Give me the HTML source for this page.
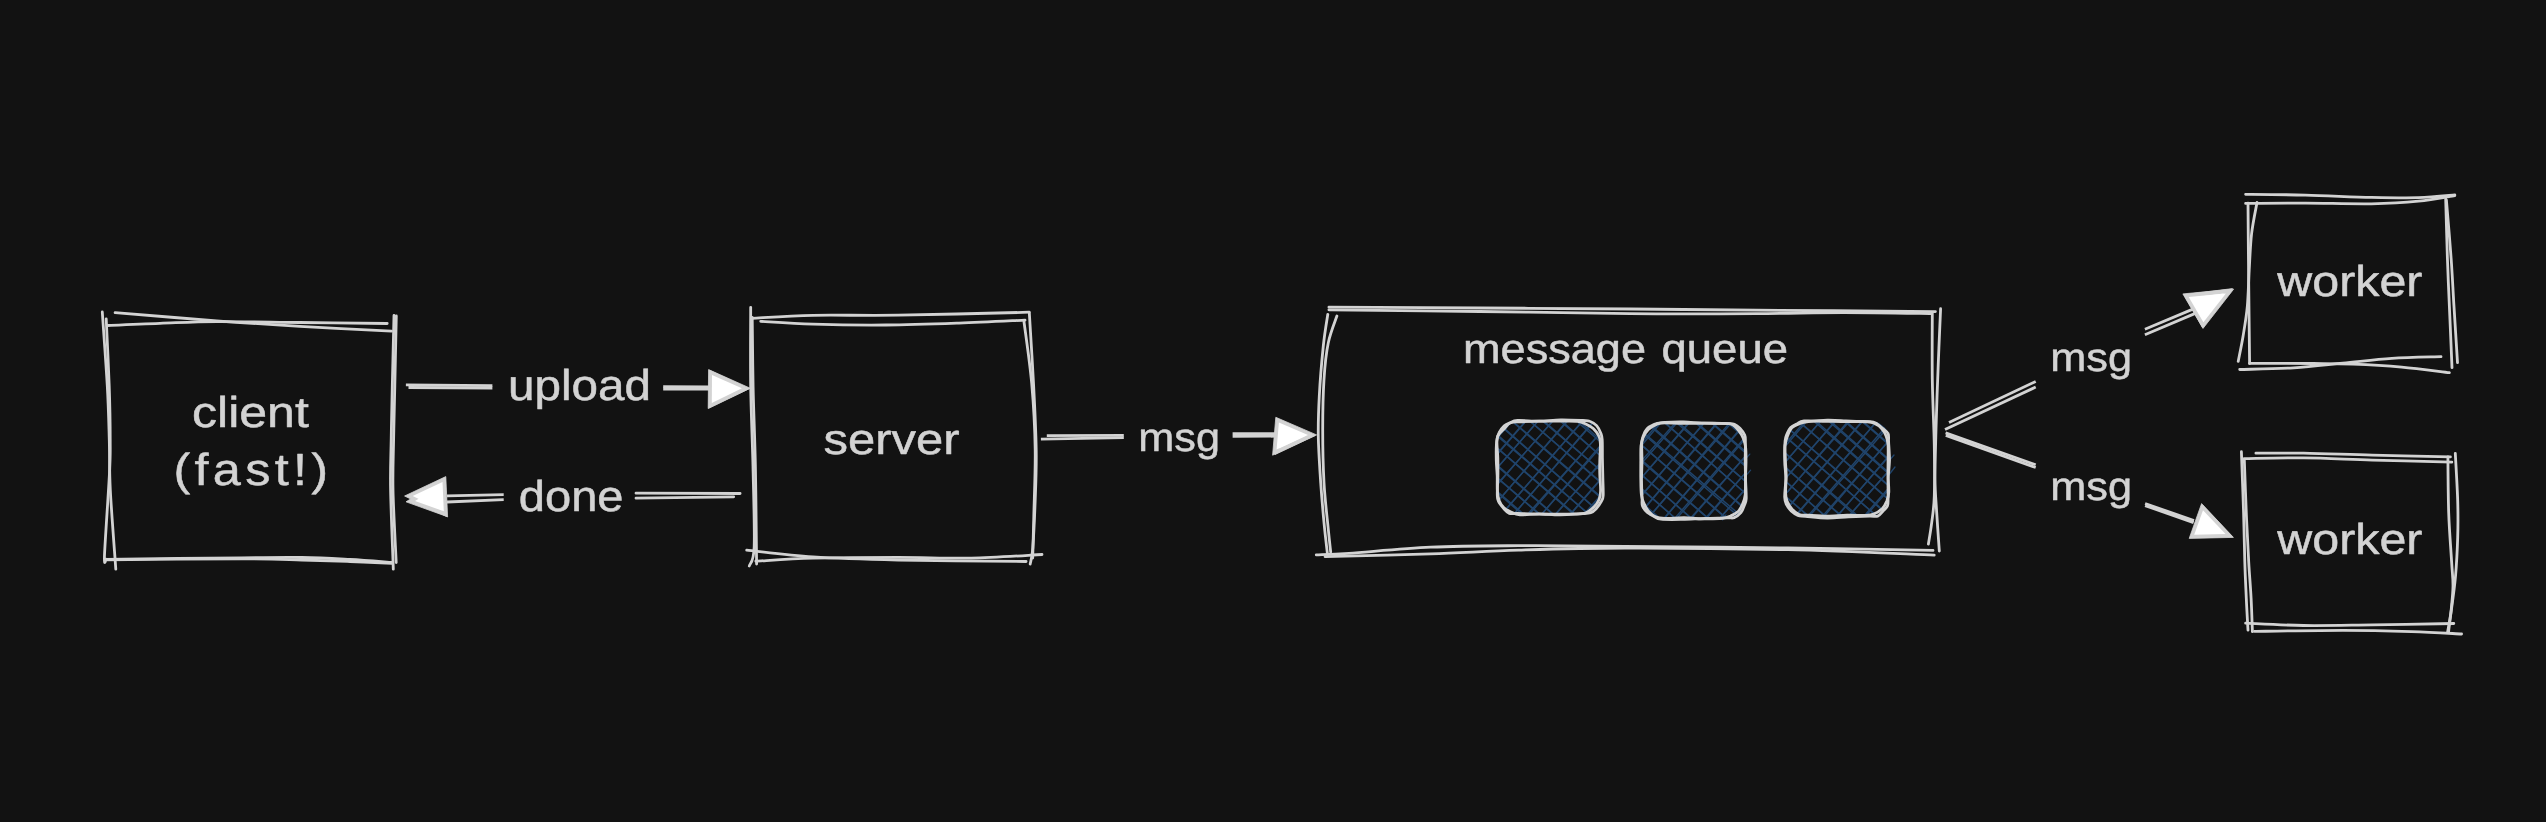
<!DOCTYPE html>
<html><head><meta charset="utf-8"><title>message queue diagram</title>
<style>
html,body{margin:0;padding:0;background:#121212;}
body{width:2546px;height:822px;overflow:hidden;}
svg{display:block;}
text{font-family:"Liberation Sans",sans-serif;fill:#d3d3d3;stroke:#d3d3d3;stroke-width:0.5px;stroke-linejoin:round;text-rendering:geometricPrecision;}
</style></head><body>
<svg width="2546" height="822" viewBox="0 0 2546 822">
<rect width="2546" height="822" fill="#121212"/>
<defs><clipPath id="c1"><path d="M1518.3 421.3L1580.1 421.3Q1601.1 421.3 1601.1 442.3L1601.1 493.0Q1601.1 514.0 1580.1 514.0L1518.3 514.0Q1497.3 514.0 1497.3 493.0L1497.3 442.3Q1497.3 421.3 1518.3 421.3Z"/></clipPath><clipPath id="c2"><path d="M1662.3 423.2L1723.6 423.2Q1744.6 423.2 1744.6 444.2L1744.6 497.6Q1744.6 518.6 1723.6 518.6L1662.3 518.6Q1641.3 518.6 1641.3 497.6L1641.3 444.2Q1641.3 423.2 1662.3 423.2Z"/></clipPath><clipPath id="c3"><path d="M1806.2 421.0L1868.0 421.0Q1889.0 421.0 1889.0 442.0L1889.0 495.2Q1889.0 516.2 1868.0 516.2L1806.2 516.2Q1785.2 516.2 1785.2 495.2L1785.2 442.0Q1785.2 421.0 1806.2 421.0Z"/></clipPath></defs>
<path d="M115.1 312.7C132.1 314.1 186.0 318.5 216.8 320.8C247.6 323.1 270.9 324.6 300.0 326.3C329.1 328.0 376.2 330.4 391.5 331.2" stroke="#d3d3d3" stroke-width="2.8" fill="none" stroke-linecap="round" stroke-linejoin="round"/>
<path d="M107.8 325.5C116.5 325.1 141.8 323.9 160.0 323.3C178.2 322.7 193.5 321.7 216.8 321.6C240.1 321.5 271.6 322.2 300.0 322.5C328.4 322.8 372.7 323.3 387.2 323.5" stroke="#d3d3d3" stroke-width="2.8" fill="none" stroke-linecap="round" stroke-linejoin="round"/>
<path d="M102.3 312.0C103.1 324.3 106.1 364.7 107.3 386.0C108.5 407.3 108.8 422.7 109.3 440.0C109.8 457.3 109.2 468.5 110.3 490.0C111.4 511.5 114.9 556.0 115.8 569.2" stroke="#d3d3d3" stroke-width="2.8" fill="none" stroke-linecap="round" stroke-linejoin="round"/>
<path d="M106.2 318.8C106.7 330.0 108.5 365.8 109.2 386.0C109.9 406.2 110.2 425.5 110.2 440.0C110.2 454.5 110.5 453.8 109.5 473.0C108.5 492.2 105.1 540.6 104.5 555.0C103.9 569.4 105.8 558.6 106.0 559.3" stroke="#d3d3d3" stroke-width="2.8" fill="none" stroke-linecap="round" stroke-linejoin="round"/>
<path d="M394.0 315.5C393.7 327.2 392.8 365.2 392.3 386.0C391.8 406.8 391.5 422.7 391.2 440.0C390.9 457.3 390.2 468.5 390.6 490.0C391.0 511.5 392.9 556.0 393.3 569.2" stroke="#d3d3d3" stroke-width="2.8" fill="none" stroke-linecap="round" stroke-linejoin="round"/>
<path d="M396.3 316.0C396.1 327.7 395.2 365.3 394.8 386.0C394.4 406.7 393.9 422.7 393.6 440.0C393.3 457.3 392.6 469.6 393.0 490.0C393.4 510.4 395.7 550.4 396.2 562.5" stroke="#d3d3d3" stroke-width="2.8" fill="none" stroke-linecap="round" stroke-linejoin="round"/>
<path d="M105.3 559.3C127.9 559.0 208.2 558.1 241.0 557.8C273.8 557.5 283.8 557.2 302.0 557.5C320.2 557.8 335.0 558.7 350.0 559.5C365.0 560.3 385.0 562.0 392.0 562.5" stroke="#d3d3d3" stroke-width="2.8" fill="none" stroke-linecap="round" stroke-linejoin="round"/>
<path d="M105.3 559.9C127.9 559.7 208.2 558.8 241.0 558.8C273.8 558.8 283.8 559.5 302.0 560.0C320.2 560.5 335.0 560.9 350.0 561.5C365.0 562.1 385.0 563.1 392.0 563.4" stroke="#d3d3d3" stroke-width="2.8" fill="none" stroke-linecap="round" stroke-linejoin="round"/>
<path d="M752.2 318.3C762.3 317.8 788.6 315.8 813.0 315.3C837.4 314.8 862.3 315.7 898.3 315.2C934.3 314.7 1007.4 312.7 1029.2 312.2" stroke="#d3d3d3" stroke-width="2.8" fill="none" stroke-linecap="round" stroke-linejoin="round"/>
<path d="M760.7 321.3C769.4 321.8 792.1 323.6 813.0 324.2C833.9 324.8 861.7 325.2 886.0 325.0C910.3 324.8 935.8 323.9 959.0 323.1C982.2 322.3 1014.0 320.6 1025.0 320.1" stroke="#d3d3d3" stroke-width="2.8" fill="none" stroke-linecap="round" stroke-linejoin="round"/>
<path d="M750.7 307.3C750.7 320.5 750.3 360.1 750.7 386.7C751.1 413.3 752.4 440.0 753.0 466.7C753.6 493.4 754.8 530.2 754.2 546.7C753.6 563.2 750.1 562.8 749.3 566.0" stroke="#d3d3d3" stroke-width="2.8" fill="none" stroke-linecap="round" stroke-linejoin="round"/>
<path d="M752.2 317.3C752.4 328.9 752.6 361.8 753.1 386.7C753.6 411.6 754.9 440.0 755.4 466.7C755.9 493.4 756.2 530.5 756.4 546.7C756.6 562.9 756.6 561.1 756.6 564.0" stroke="#d3d3d3" stroke-width="2.8" fill="none" stroke-linecap="round" stroke-linejoin="round"/>
<path d="M1029.3 312.7C1030.0 324.5 1032.3 360.4 1033.5 383.3C1034.7 406.2 1035.9 430.6 1036.2 450.0C1036.5 469.4 1035.8 483.7 1035.2 500.0C1034.6 516.3 1033.6 537.3 1032.8 548.0C1032.0 558.7 1030.6 561.3 1030.2 564.0" stroke="#d3d3d3" stroke-width="2.8" fill="none" stroke-linecap="round" stroke-linejoin="round"/>
<path d="M1024.0 321.7C1025.3 332.0 1029.8 361.9 1031.7 383.3C1033.6 404.7 1034.9 427.8 1035.2 450.0C1035.5 472.2 1034.2 498.7 1033.8 516.7C1033.4 534.7 1032.9 551.1 1032.7 558.0" stroke="#d3d3d3" stroke-width="2.8" fill="none" stroke-linecap="round" stroke-linejoin="round"/>
<path d="M746.7 550.2C757.8 551.3 787.7 555.3 813.0 556.9C838.3 558.5 862.8 559.2 898.3 560.0C933.8 560.8 1004.8 561.2 1026.1 561.5" stroke="#d3d3d3" stroke-width="2.8" fill="none" stroke-linecap="round" stroke-linejoin="round"/>
<path d="M755.8 561.2C765.3 560.7 789.2 558.8 813.0 558.1C836.8 557.5 871.9 557.3 898.3 557.3C924.7 557.3 947.3 558.6 971.3 558.1C995.2 557.6 1030.2 555.1 1042.0 554.5" stroke="#d3d3d3" stroke-width="2.8" fill="none" stroke-linecap="round" stroke-linejoin="round"/>
<path d="M1328.9 307.2C1354.1 307.3 1429.8 307.7 1480.0 308.0C1530.2 308.3 1584.0 308.6 1630.0 309.0C1676.0 309.4 1704.8 309.7 1755.7 310.1C1806.6 310.5 1905.5 311.4 1935.4 311.6" stroke="#d3d3d3" stroke-width="2.8" fill="none" stroke-linecap="round" stroke-linejoin="round"/>
<path d="M1328.9 309.8C1354.1 310.1 1429.8 310.9 1480.0 311.5C1530.2 312.1 1584.0 313.2 1630.0 313.6C1676.0 314.0 1720.1 313.8 1755.7 313.6C1791.3 313.4 1814.4 312.6 1843.7 312.6C1873.0 312.6 1917.0 313.4 1931.7 313.6" stroke="#d3d3d3" stroke-width="2.8" fill="none" stroke-linecap="round" stroke-linejoin="round"/>
<path d="M1327.8 314.3C1327.0 319.6 1324.7 332.4 1323.3 346.0C1321.9 359.6 1320.1 381.0 1319.3 396.0C1318.5 411.0 1318.1 421.6 1318.3 436.0C1318.5 450.4 1319.8 468.2 1320.7 482.7C1321.7 497.1 1322.9 510.8 1324.0 522.7C1325.1 534.6 1326.9 549.0 1327.5 554.3" stroke="#d3d3d3" stroke-width="2.8" fill="none" stroke-linecap="round" stroke-linejoin="round"/>
<path d="M1336.9 316.0C1335.5 320.4 1330.5 332.1 1328.3 342.7C1326.1 353.2 1324.9 364.9 1324.0 379.3C1323.1 393.7 1322.7 412.1 1322.7 429.3C1322.7 446.5 1323.1 466.0 1324.0 482.7C1324.9 499.4 1327.2 517.8 1328.3 529.3C1329.4 540.8 1330.3 548.2 1330.7 552.0" stroke="#d3d3d3" stroke-width="2.8" fill="none" stroke-linecap="round" stroke-linejoin="round"/>
<path d="M1940.6 308.7C1940.2 317.7 1939.1 342.6 1938.3 362.7C1937.5 382.8 1936.5 409.9 1936.0 429.3C1935.5 448.7 1934.9 465.4 1935.0 479.3C1935.1 493.2 1936.0 500.8 1936.7 512.7C1937.4 524.7 1938.9 544.6 1939.3 551.0" stroke="#d3d3d3" stroke-width="2.8" fill="none" stroke-linecap="round" stroke-linejoin="round"/>
<path d="M1932.3 313.0C1932.3 324.1 1932.0 357.1 1932.3 379.3C1932.6 401.5 1934.0 426.6 1934.3 446.0C1934.6 465.4 1934.7 483.2 1934.3 496.0C1933.9 508.8 1932.7 514.7 1931.7 522.7C1930.7 530.7 1929.0 540.5 1928.4 544.0" stroke="#d3d3d3" stroke-width="2.8" fill="none" stroke-linecap="round" stroke-linejoin="round"/>
<path d="M1316.3 554.9C1321.8 554.6 1329.9 554.6 1349.0 553.3C1368.1 552.0 1402.4 548.5 1430.7 547.2C1459.0 545.9 1486.3 545.9 1518.7 545.7C1551.1 545.6 1580.1 545.9 1625.0 546.3C1669.9 546.7 1736.7 547.3 1788.0 548.0C1839.3 548.7 1908.8 550.0 1933.0 550.4" stroke="#d3d3d3" stroke-width="2.8" fill="none" stroke-linecap="round" stroke-linejoin="round"/>
<path d="M1325.1 556.6C1342.7 556.1 1398.4 555.0 1430.7 553.9C1463.0 552.8 1486.3 551.1 1518.7 550.1C1551.1 549.1 1580.1 548.1 1625.0 548.0C1669.9 547.9 1736.5 548.5 1788.0 549.7C1839.5 550.9 1909.8 554.2 1934.2 555.1" stroke="#d3d3d3" stroke-width="2.8" fill="none" stroke-linecap="round" stroke-linejoin="round"/>
<path d="M2245.6 194.3C2255.6 194.4 2284.4 194.6 2305.4 195.1C2326.4 195.6 2352.6 197.0 2371.4 197.4C2390.2 197.8 2404.6 198.1 2418.5 197.7C2432.4 197.3 2448.8 195.4 2454.8 194.9" stroke="#d3d3d3" stroke-width="2.8" fill="none" stroke-linecap="round" stroke-linejoin="round"/>
<path d="M2245.6 203.4C2255.6 203.3 2284.4 203.0 2305.4 203.1C2326.4 203.2 2352.6 204.1 2371.4 203.8C2390.2 203.5 2404.6 202.6 2418.5 201.2C2432.4 199.8 2448.8 196.5 2454.8 195.6" stroke="#d3d3d3" stroke-width="2.8" fill="none" stroke-linecap="round" stroke-linejoin="round"/>
<path d="M2248.0 203.2C2248.1 216.4 2248.4 255.6 2248.7 282.3C2249.0 309.0 2249.4 350.1 2249.6 363.6" stroke="#d3d3d3" stroke-width="2.8" fill="none" stroke-linecap="round" stroke-linejoin="round"/>
<path d="M2257.0 202.5C2256.1 207.7 2252.9 222.4 2251.6 233.7C2250.3 245.0 2249.9 258.0 2249.2 270.2C2248.5 282.4 2248.3 295.8 2247.3 306.7C2246.3 317.6 2244.6 326.8 2243.1 335.9C2241.6 345.0 2239.0 357.1 2238.2 361.4" stroke="#d3d3d3" stroke-width="2.8" fill="none" stroke-linecap="round" stroke-linejoin="round"/>
<path d="M2445.7 199.1C2446.0 208.9 2446.8 240.1 2447.4 258.0C2448.0 275.9 2448.6 288.4 2449.4 306.7C2450.2 325.0 2451.6 357.5 2452.0 367.6" stroke="#d3d3d3" stroke-width="2.8" fill="none" stroke-linecap="round" stroke-linejoin="round"/>
<path d="M2446.4 200.1C2447.2 209.8 2449.8 240.2 2451.1 258.0C2452.4 275.8 2452.9 289.3 2454.0 306.7C2455.1 324.1 2456.9 353.3 2457.5 362.6" stroke="#d3d3d3" stroke-width="2.8" fill="none" stroke-linecap="round" stroke-linejoin="round"/>
<path d="M2249.5 363.4C2260.2 363.4 2296.2 363.4 2313.4 363.5C2330.6 363.6 2338.0 363.5 2352.7 364.1C2367.4 364.7 2385.6 365.7 2401.7 367.1C2417.8 368.5 2441.4 371.8 2449.4 372.7" stroke="#d3d3d3" stroke-width="2.8" fill="none" stroke-linecap="round" stroke-linejoin="round"/>
<path d="M2239.7 369.5C2248.7 369.2 2276.5 368.9 2293.7 367.8C2310.9 366.8 2326.4 364.8 2342.8 363.2C2359.2 361.6 2375.5 359.4 2391.9 358.3C2408.3 357.2 2432.8 356.9 2441.0 356.6" stroke="#d3d3d3" stroke-width="2.8" fill="none" stroke-linecap="round" stroke-linejoin="round"/>
<path d="M2255.9 453.2C2263.8 453.2 2284.2 452.9 2303.6 453.2C2323.0 453.5 2347.8 454.6 2372.3 455.2C2396.8 455.8 2437.4 456.6 2450.4 456.9" stroke="#d3d3d3" stroke-width="2.8" fill="none" stroke-linecap="round" stroke-linejoin="round"/>
<path d="M2244.1 458.6C2254.0 458.5 2282.2 457.6 2303.6 457.9C2325.0 458.1 2347.6 459.4 2372.3 460.1C2397.0 460.8 2438.6 461.8 2451.8 462.1" stroke="#d3d3d3" stroke-width="2.8" fill="none" stroke-linecap="round" stroke-linejoin="round"/>
<path d="M2241.4 451.7C2241.8 461.9 2243.0 494.7 2243.6 513.0C2244.2 531.3 2244.4 547.5 2244.8 561.7C2245.2 575.9 2245.8 586.8 2246.3 598.2C2246.8 609.6 2247.7 624.9 2248.0 630.2" stroke="#d3d3d3" stroke-width="2.8" fill="none" stroke-linecap="round" stroke-linejoin="round"/>
<path d="M2244.3 459.5C2244.6 468.4 2245.6 496.0 2246.3 513.0C2247.0 530.0 2247.9 547.5 2248.7 561.7C2249.5 575.9 2250.5 586.6 2251.1 598.2C2251.7 609.9 2252.2 626.0 2252.4 631.6" stroke="#d3d3d3" stroke-width="2.8" fill="none" stroke-linecap="round" stroke-linejoin="round"/>
<path d="M2447.9 457.0C2448.0 466.3 2448.1 495.6 2448.7 513.0C2449.3 530.5 2450.9 549.5 2451.6 561.7C2452.3 573.9 2453.1 578.0 2453.0 586.0C2452.9 594.0 2451.9 602.3 2451.2 610.0C2450.4 617.7 2448.9 628.5 2448.5 632.2" stroke="#d3d3d3" stroke-width="2.8" fill="none" stroke-linecap="round" stroke-linejoin="round"/>
<path d="M2455.3 453.4C2455.7 461.3 2457.3 486.8 2457.7 500.8C2458.1 514.8 2458.1 524.7 2457.7 537.3C2457.3 549.9 2456.6 564.1 2455.5 576.3C2454.4 588.5 2452.6 601.0 2451.3 610.3C2450.0 619.6 2448.2 628.6 2447.6 632.2" stroke="#d3d3d3" stroke-width="2.8" fill="none" stroke-linecap="round" stroke-linejoin="round"/>
<path d="M2245.6 623.2C2255.3 623.6 2282.5 625.2 2303.6 625.5C2324.7 625.8 2347.3 625.2 2372.3 624.9C2397.3 624.6 2440.2 623.7 2453.8 623.5" stroke="#d3d3d3" stroke-width="2.8" fill="none" stroke-linecap="round" stroke-linejoin="round"/>
<path d="M2254.5 631.4C2269.2 631.2 2316.6 630.4 2342.8 630.4C2369.0 630.4 2391.8 631.0 2411.6 631.6C2431.4 632.2 2453.3 633.6 2461.6 634.0" stroke="#d3d3d3" stroke-width="2.8" fill="none" stroke-linecap="round" stroke-linejoin="round"/>
<path d="M405.9 384.9L492.4 385.7" stroke="#d3d3d3" stroke-width="2.8" fill="none" stroke-linecap="butt" stroke-linejoin="round"/>
<path d="M408.5 387.5L492.4 388.0" stroke="#d3d3d3" stroke-width="2.8" fill="none" stroke-linecap="butt" stroke-linejoin="round"/>
<path d="M663.2 386.6L709.0 386.8" stroke="#d3d3d3" stroke-width="2.8" fill="none" stroke-linecap="butt" stroke-linejoin="round"/>
<path d="M663.2 389.0L709.0 389.2" stroke="#d3d3d3" stroke-width="2.8" fill="none" stroke-linecap="butt" stroke-linejoin="round"/>
<path d="M750.2 388.2L708.6 369.6L708.2 408.6Z" fill="#d3d3d3" stroke="#d3d3d3" stroke-width="0.8" stroke-linejoin="round"/>
<path d="M749.0 388.8L709.6 370.4L709.0 407.8Z" fill="#d3d3d3" stroke="#d3d3d3" stroke-width="0.8" stroke-linejoin="round"/>
<path d="M741.9 388.3L712.0 375.0L711.8 403.0Z" fill="#ffffff"/>
<path d="M739.8 388.8L713.4 376.5L713.0 401.6Z" fill="#ffffff"/>
<path d="M447.0 495.8L503.7 494.7" stroke="#d3d3d3" stroke-width="2.8" fill="none" stroke-linecap="butt" stroke-linejoin="round"/>
<path d="M447.0 502.0L503.7 499.6" stroke="#d3d3d3" stroke-width="2.8" fill="none" stroke-linecap="butt" stroke-linejoin="round"/>
<path d="M636.0 493.2L740.1 493.5" stroke="#d3d3d3" stroke-width="2.8" fill="none" stroke-linecap="round" stroke-linejoin="round"/>
<path d="M636.0 498.2L733.7 496.8" stroke="#d3d3d3" stroke-width="2.8" fill="none" stroke-linecap="round" stroke-linejoin="round"/>
<path d="M404.6 496.0L445.8 476.6L447.6 517.0Z" fill="#d3d3d3" stroke="#d3d3d3" stroke-width="0.8" stroke-linejoin="round"/>
<path d="M406.0 501.8L445.0 478.0L446.6 516.4Z" fill="#d3d3d3" stroke="#d3d3d3" stroke-width="0.8" stroke-linejoin="round"/>
<path d="M412.7 496.1L442.5 482.0L443.8 511.3Z" fill="#ffffff"/>
<path d="M415.0 500.9L441.4 484.8L442.5 510.8Z" fill="#ffffff"/>
<path d="M1046.8 435.7L1123.8 435.4" stroke="#d3d3d3" stroke-width="2.8" fill="none" stroke-linecap="butt" stroke-linejoin="round"/>
<path d="M1040.9 439.2L1123.8 437.7" stroke="#d3d3d3" stroke-width="2.8" fill="none" stroke-linecap="butt" stroke-linejoin="round"/>
<path d="M1232.6 433.7L1276.0 433.7" stroke="#d3d3d3" stroke-width="2.8" fill="none" stroke-linecap="butt" stroke-linejoin="round"/>
<path d="M1232.6 436.4L1276.0 436.2" stroke="#d3d3d3" stroke-width="2.8" fill="none" stroke-linecap="butt" stroke-linejoin="round"/>
<path d="M1316.6 434.9L1275.8 417.3L1272.6 455.2Z" fill="#d3d3d3" stroke="#d3d3d3" stroke-width="0.8" stroke-linejoin="round"/>
<path d="M1315.0 435.6L1276.6 419.4L1275.0 454.6Z" fill="#d3d3d3" stroke="#d3d3d3" stroke-width="0.8" stroke-linejoin="round"/>
<path d="M1308.0 435.0L1278.9 422.4L1276.6 449.5Z" fill="#ffffff"/>
<path d="M1305.5 435.8L1280.2 425.2L1279.2 448.3Z" fill="#ffffff"/>
<path d="M1949.0 422.5L2035.7 381.5" stroke="#d3d3d3" stroke-width="2.8" fill="none" stroke-linecap="butt" stroke-linejoin="round"/>
<path d="M1945.0 429.5L2035.7 387.1" stroke="#d3d3d3" stroke-width="2.8" fill="none" stroke-linecap="butt" stroke-linejoin="round"/>
<path d="M2144.9 329.2L2192.9 309.1" stroke="#d3d3d3" stroke-width="2.8" fill="none" stroke-linecap="butt" stroke-linejoin="round"/>
<path d="M2144.9 334.8L2195.9 313.1" stroke="#d3d3d3" stroke-width="2.8" fill="none" stroke-linecap="butt" stroke-linejoin="round"/>
<path d="M2233.6 289.2L2182.9 293.9L2203.0 328.4Z" fill="#d3d3d3" stroke="#d3d3d3" stroke-width="0.8" stroke-linejoin="round"/>
<path d="M2232.5 288.6L2184.0 294.6L2202.4 327.4Z" fill="#d3d3d3" stroke="#d3d3d3" stroke-width="0.8" stroke-linejoin="round"/>
<path d="M2225.9 293.4L2188.7 296.9L2203.4 322.2Z" fill="#ffffff"/>
<path d="M2223.7 293.6L2190.2 297.8L2202.9 320.4Z" fill="#ffffff"/>
<path d="M1945.6 432.9L2035.7 464.8" stroke="#d3d3d3" stroke-width="2.8" fill="none" stroke-linecap="butt" stroke-linejoin="round"/>
<path d="M1945.8 435.4L2035.7 467.5" stroke="#d3d3d3" stroke-width="2.8" fill="none" stroke-linecap="butt" stroke-linejoin="round"/>
<path d="M2145.1 503.5L2194.0 520.6" stroke="#d3d3d3" stroke-width="2.8" fill="none" stroke-linecap="butt" stroke-linejoin="round"/>
<path d="M2145.1 505.6L2193.6 522.6" stroke="#d3d3d3" stroke-width="2.8" fill="none" stroke-linecap="butt" stroke-linejoin="round"/>
<path d="M2233.4 537.4L2201.6 503.6L2189.2 538.4Z" fill="#d3d3d3" stroke="#d3d3d3" stroke-width="0.8" stroke-linejoin="round"/>
<path d="M2232.0 536.4L2202.4 505.0L2190.4 537.6Z" fill="#d3d3d3" stroke="#d3d3d3" stroke-width="0.8" stroke-linejoin="round"/>
<path d="M2225.5 534.1L2203.0 510.2L2194.2 534.8Z" fill="#ffffff"/>
<path d="M2223.2 532.8L2203.9 512.3L2196.1 533.5Z" fill="#ffffff"/>
<g clip-path="url(#c1)" stroke="#20446b" stroke-width="1.45" fill="none" stroke-linecap="round"><path d="M1583.3 284.9L1725.5 409.9"/><path d="M1581.1 285.1L1725.9 410.6"/><path d="M1575.1 291.2L1720.0 417.6"/><path d="M1574.3 293.8L1720.5 417.5"/><path d="M1567.1 299.6L1711.6 424.4"/><path d="M1567.2 300.3L1710.1 425.6"/><path d="M1562.4 308.9L1705.2 433.5"/><path d="M1561.8 308.7L1704.1 435.0"/><path d="M1554.8 318.2L1696.6 441.5"/><path d="M1553.1 316.3L1697.9 442.0"/><path d="M1546.6 326.8L1691.4 448.6"/><path d="M1546.1 326.6L1690.3 451.5"/><path d="M1539.3 333.2L1684.8 456.8"/><path d="M1539.3 332.3L1685.3 458.2"/><path d="M1533.2 339.2L1676.0 466.0"/><path d="M1533.0 340.6L1677.2 464.1"/><path d="M1525.1 349.7L1668.5 473.7"/><path d="M1525.4 348.6L1671.0 474.8"/><path d="M1520.9 355.8L1662.9 482.4"/><path d="M1520.2 355.5L1664.7 480.5"/><path d="M1513.7 364.1L1655.7 488.0"/><path d="M1511.7 364.9L1655.5 489.6"/><path d="M1505.7 374.1L1649.1 497.6"/><path d="M1506.9 371.8L1648.2 498.6"/><path d="M1497.6 380.4L1642.4 507.3"/><path d="M1497.4 382.7L1642.9 506.3"/><path d="M1490.6 387.5L1636.6 512.7"/><path d="M1492.4 388.1L1636.2 513.8"/><path d="M1484.1 397.3L1627.1 520.5"/><path d="M1485.2 397.7L1628.8 520.7"/><path d="M1476.5 404.1L1620.0 530.0"/><path d="M1476.0 404.5L1620.3 530.4"/><path d="M1470.9 413.6L1616.2 537.6"/><path d="M1471.9 412.7L1613.6 535.7"/><path d="M1465.7 420.9L1609.3 543.5"/><path d="M1464.9 420.2L1608.6 544.4"/><path d="M1455.1 429.8L1600.5 555.5"/><path d="M1457.1 430.2L1600.7 555.5"/><path d="M1450.7 437.9L1594.7 561.1"/><path d="M1451.1 437.8L1593.8 561.8"/><path d="M1443.4 445.1L1585.3 569.9"/><path d="M1444.7 445.9L1587.3 569.1"/><path d="M1436.1 453.1L1580.2 576.7"/><path d="M1436.6 451.9L1579.5 577.9"/><path d="M1430.1 460.6L1573.2 586.5"/><path d="M1428.7 459.1L1572.3 585.8"/><path d="M1421.6 469.8L1566.4 593.0"/><path d="M1423.7 468.0L1566.4 592.3"/><path d="M1416.2 478.1L1559.9 601.2"/><path d="M1415.6 476.3L1557.6 601.5"/><path d="M1408.9 486.0L1552.6 609.4"/><path d="M1406.9 485.3L1550.6 609.2"/><path d="M1401.8 492.8L1544.3 618.5"/><path d="M1402.9 492.7L1543.6 616.1"/><path d="M1392.6 502.1L1537.5 625.5"/><path d="M1394.8 500.0L1536.2 626.0"/><path d="M1389.0 507.5L1530.3 631.6"/><path d="M1388.4 508.1L1531.8 633.4"/><path d="M1381.5 517.9L1522.6 641.9"/><path d="M1379.1 515.9L1523.4 642.7"/><path d="M1373.2 524.0L1517.9 649.2"/><path d="M1374.2 525.3L1517.0 650.0"/><path d="M1370.9 438.0L1493.1 293.8"/><path d="M1369.9 438.6L1493.8 294.2"/><path d="M1379.5 446.6L1503.2 302.3"/><path d="M1377.8 445.9L1504.2 302.3"/><path d="M1385.6 453.2L1512.5 310.1"/><path d="M1386.5 452.9L1510.5 309.9"/><path d="M1394.2 457.9L1519.1 315.9"/><path d="M1395.4 459.1L1517.8 316.7"/><path d="M1402.4 464.2L1525.7 322.6"/><path d="M1400.5 464.1L1526.2 322.4"/><path d="M1411.2 474.4L1535.2 331.0"/><path d="M1409.3 472.2L1535.3 329.0"/><path d="M1418.9 479.9L1544.1 336.6"/><path d="M1417.9 479.5L1544.1 337.7"/><path d="M1426.8 487.6L1550.5 343.0"/><path d="M1424.8 486.3L1550.4 343.1"/><path d="M1434.9 493.0L1557.8 350.4"/><path d="M1433.7 492.9L1558.7 348.2"/><path d="M1441.9 501.9L1568.1 356.4"/><path d="M1442.1 499.4L1566.6 358.0"/><path d="M1450.6 507.3L1574.4 364.8"/><path d="M1451.9 506.8L1576.2 363.0"/><path d="M1456.9 514.6L1581.8 370.2"/><path d="M1458.1 512.8L1583.1 369.5"/><path d="M1465.4 520.4L1590.9 377.7"/><path d="M1465.8 521.1L1590.9 376.9"/><path d="M1474.1 528.3L1598.5 385.6"/><path d="M1474.1 529.0L1597.6 385.2"/><path d="M1483.8 535.0L1606.6 393.5"/><path d="M1481.7 537.1L1608.4 391.1"/><path d="M1490.4 541.1L1613.2 399.5"/><path d="M1489.5 542.7L1613.3 398.2"/><path d="M1496.9 548.4L1623.6 407.2"/><path d="M1499.8 548.2L1623.0 406.7"/><path d="M1506.7 555.2L1629.5 411.5"/><path d="M1504.7 556.2L1630.8 412.9"/><path d="M1512.7 561.7L1639.3 420.7"/><path d="M1514.9 561.4L1637.0 420.6"/><path d="M1522.9 569.4L1646.6 426.6"/><path d="M1521.9 570.2L1645.3 427.2"/><path d="M1529.6 577.2L1656.0 433.7"/><path d="M1529.7 576.3L1655.3 432.5"/><path d="M1539.6 585.0L1664.4 441.4"/><path d="M1538.4 584.7L1663.3 442.4"/><path d="M1545.8 592.4L1671.9 448.7"/><path d="M1547.5 590.9L1672.4 449.0"/><path d="M1555.2 598.8L1678.8 455.3"/><path d="M1553.1 597.6L1678.9 453.2"/><path d="M1562.3 605.0L1685.8 462.5"/><path d="M1562.4 604.1L1687.1 461.4"/><path d="M1569.8 613.3L1695.2 469.0"/><path d="M1571.0 613.2L1693.4 468.7"/><path d="M1577.7 618.7L1701.8 474.6"/><path d="M1578.1 617.7L1702.4 476.8"/><path d="M1586.2 627.1L1711.0 483.8"/><path d="M1586.6 626.6L1709.6 482.6"/><path d="M1593.1 634.2L1718.1 489.4"/><path d="M1593.5 632.9L1719.5 488.2"/><path d="M1602.5 640.1L1727.7 496.3"/><path d="M1602.1 640.5L1727.6 496.0"/><path d="M1609.8 645.3L1734.3 502.0"/><path d="M1609.4 647.5L1734.7 504.5"/></g>
<path d="M1496.9 440.8C1497.1 436.6 1497.8 435.1 1499.1 432.6C1500.3 430.1 1502.5 427.5 1504.3 425.8C1506.0 424.2 1507.6 423.7 1509.8 422.9C1512.0 422.0 1512.6 420.8 1517.6 420.5C1522.6 420.2 1532.5 421.3 1539.7 421.2C1546.9 421.0 1553.5 420.0 1560.7 419.9C1567.9 419.8 1578.2 420.3 1583.0 420.5C1587.8 420.7 1587.4 420.4 1589.7 421.3C1592.0 422.1 1594.8 423.7 1596.6 425.6C1598.4 427.6 1599.8 430.6 1600.7 432.9C1601.6 435.3 1601.9 435.5 1602.2 439.7C1602.5 443.8 1602.3 451.8 1602.4 457.9C1602.5 464.0 1602.7 469.8 1602.8 476.0C1602.9 482.3 1603.4 491.1 1603.2 495.3C1602.9 499.5 1602.4 499.2 1601.2 501.5C1600.0 503.8 1597.6 507.1 1595.9 509.0C1594.1 510.9 1593.0 512.0 1590.8 512.7C1588.5 513.5 1587.4 513.4 1582.5 513.6C1577.6 513.8 1568.6 514.0 1561.5 514.1C1554.3 514.2 1547.0 514.3 1539.7 514.2C1532.4 514.1 1522.7 513.6 1517.7 513.4C1512.6 513.3 1511.5 514.1 1509.3 513.4C1507.0 512.6 1506.0 511.0 1504.2 509.0C1502.3 506.9 1499.5 503.6 1498.4 501.2C1497.2 498.7 1497.4 498.6 1497.3 494.4C1497.2 490.1 1497.8 481.9 1497.9 475.8C1498.0 469.7 1497.9 463.6 1497.8 457.8C1497.6 452.0 1496.7 445.0 1496.9 440.8Z" fill="none" stroke="#d3d3d3" stroke-width="2.8" stroke-linejoin="round"/>
<path d="M1496.4 445.0C1496.7 440.9 1496.6 438.5 1497.9 435.8C1499.2 433.1 1501.9 431.3 1504.0 429.1C1506.0 426.9 1507.6 423.9 1510.4 422.7C1513.2 421.5 1515.9 422.1 1520.7 421.8C1525.5 421.5 1533.3 421.2 1539.4 421.1C1545.5 421.0 1551.2 421.1 1557.5 421.1C1563.9 421.2 1572.8 420.8 1577.6 421.3C1582.4 421.9 1583.7 423.1 1586.3 424.3C1588.9 425.5 1591.2 426.5 1593.3 428.6C1595.5 430.7 1598.0 434.1 1599.2 436.8C1600.4 439.6 1600.3 440.8 1600.4 444.8C1600.5 448.9 1599.9 455.9 1599.8 460.9C1599.7 465.9 1599.6 469.6 1599.8 474.6C1599.9 479.6 1600.8 486.8 1600.6 491.0C1600.5 495.1 1600.1 497.0 1599.1 499.6C1598.0 502.3 1596.4 504.6 1594.1 506.8C1591.9 509.1 1588.5 511.8 1585.5 513.0C1582.5 514.2 1580.7 513.8 1576.3 514.1C1571.8 514.4 1564.9 514.9 1558.7 514.8C1552.5 514.8 1545.5 513.8 1539.1 513.8C1532.6 513.9 1524.6 515.2 1519.9 514.9C1515.2 514.6 1513.6 513.2 1510.9 512.0C1508.2 510.8 1505.9 509.6 1503.9 507.7C1501.9 505.9 1500.3 503.6 1499.2 500.8C1498.1 498.0 1497.7 495.1 1497.4 490.9C1497.0 486.7 1497.4 480.6 1497.2 475.5C1497.0 470.4 1496.4 465.6 1496.3 460.5C1496.2 455.4 1496.1 449.2 1496.4 445.0Z" fill="none" stroke="#d3d3d3" stroke-width="2.8" stroke-linejoin="round"/>
<g clip-path="url(#c2)" stroke="#20446b" stroke-width="1.45" fill="none" stroke-linecap="round"><path d="M1721.3 292.2L1865.1 416.8"/><path d="M1721.8 292.3L1864.6 417.4"/><path d="M1715.4 301.5L1858.8 424.1"/><path d="M1716.0 301.6L1858.0 423.7"/><path d="M1708.7 308.3L1853.4 433.2"/><path d="M1709.5 306.8L1852.2 433.6"/><path d="M1700.9 316.2L1846.8 438.9"/><path d="M1702.6 314.4L1846.3 440.6"/><path d="M1694.2 324.5L1838.5 449.2"/><path d="M1694.7 323.2L1839.8 448.9"/><path d="M1687.9 332.7L1831.8 457.9"/><path d="M1687.5 333.0L1831.7 457.8"/><path d="M1681.5 341.6L1825.2 465.5"/><path d="M1680.5 341.1L1824.8 464.9"/><path d="M1672.9 348.7L1818.8 472.2"/><path d="M1673.0 347.1L1817.1 472.0"/><path d="M1665.0 356.1L1808.6 481.8"/><path d="M1667.2 355.7L1808.4 481.2"/><path d="M1661.1 362.8L1802.1 487.9"/><path d="M1659.0 363.4L1803.9 489.1"/><path d="M1652.4 371.0L1795.7 497.1"/><path d="M1652.8 371.8L1797.7 496.3"/><path d="M1647.5 381.0L1789.3 504.5"/><path d="M1647.7 379.7L1788.9 503.0"/><path d="M1639.5 388.3L1782.0 513.4"/><path d="M1637.9 390.1L1782.4 512.5"/><path d="M1632.6 395.0L1777.0 520.7"/><path d="M1633.0 394.4L1775.1 519.5"/><path d="M1626.6 403.8L1769.3 529.9"/><path d="M1624.8 403.8L1767.8 529.2"/><path d="M1619.8 412.4L1763.2 534.8"/><path d="M1618.1 412.0L1761.0 536.0"/><path d="M1612.7 420.3L1755.8 544.1"/><path d="M1612.2 419.8L1756.0 543.4"/><path d="M1603.1 428.6L1747.4 552.1"/><path d="M1604.9 427.9L1746.8 551.9"/><path d="M1597.5 436.4L1740.6 561.0"/><path d="M1596.4 435.5L1740.9 561.8"/><path d="M1590.5 443.0L1733.0 569.8"/><path d="M1589.2 444.7L1733.3 567.7"/><path d="M1583.8 451.8L1726.6 576.7"/><path d="M1582.5 452.8L1725.7 576.9"/><path d="M1577.1 459.2L1719.1 585.3"/><path d="M1576.1 461.2L1720.2 585.2"/><path d="M1570.7 466.6L1712.1 591.3"/><path d="M1570.3 468.4L1712.2 592.2"/><path d="M1562.5 475.3L1704.8 600.1"/><path d="M1561.1 476.2L1704.3 602.4"/><path d="M1555.8 484.4L1699.9 609.6"/><path d="M1555.4 483.4L1698.9 607.1"/><path d="M1549.4 493.4L1693.1 617.0"/><path d="M1549.1 490.5L1691.7 616.1"/><path d="M1540.4 499.9L1685.0 625.8"/><path d="M1542.5 500.6L1683.9 625.7"/><path d="M1534.4 508.2L1677.7 632.2"/><path d="M1534.9 510.1L1677.7 633.9"/><path d="M1526.5 517.8L1671.2 640.3"/><path d="M1526.2 515.7L1671.1 641.7"/><path d="M1522.4 523.4L1664.4 647.3"/><path d="M1522.5 522.7L1665.7 648.6"/><path d="M1514.0 531.4L1658.5 658.3"/><path d="M1514.8 532.4L1656.1 657.8"/><path d="M1508.7 437.5L1635.1 292.9"/><path d="M1509.6 436.0L1632.7 292.9"/><path d="M1518.9 444.8L1641.7 301.5"/><path d="M1518.3 444.0L1642.5 301.9"/><path d="M1523.4 450.1L1647.9 306.4"/><path d="M1524.5 449.2L1649.0 306.0"/><path d="M1532.5 458.2L1656.3 314.9"/><path d="M1532.0 459.1L1658.0 314.3"/><path d="M1541.2 465.1L1666.2 321.9"/><path d="M1540.8 466.0L1666.5 322.2"/><path d="M1548.6 471.7L1674.7 328.2"/><path d="M1548.9 471.3L1674.7 327.5"/><path d="M1557.0 479.2L1681.7 334.9"/><path d="M1557.1 477.4L1681.3 333.3"/><path d="M1564.3 485.1L1688.8 340.3"/><path d="M1565.0 485.1L1688.3 341.1"/><path d="M1572.0 491.0L1698.7 350.3"/><path d="M1573.3 493.4L1697.2 349.8"/><path d="M1581.3 499.3L1706.4 354.5"/><path d="M1581.4 497.9L1705.3 357.0"/><path d="M1587.5 505.2L1712.4 361.1"/><path d="M1589.4 506.7L1712.6 361.9"/><path d="M1595.7 512.0L1722.9 369.4"/><path d="M1597.0 514.7L1723.1 369.9"/><path d="M1603.9 521.2L1730.4 375.6"/><path d="M1605.5 519.5L1729.1 375.5"/><path d="M1614.9 526.8L1738.5 383.3"/><path d="M1614.6 526.3L1736.9 384.9"/><path d="M1621.9 535.1L1746.0 389.5"/><path d="M1621.3 535.3L1745.2 389.3"/><path d="M1628.0 541.4L1752.3 396.4"/><path d="M1627.8 541.3L1754.1 397.0"/><path d="M1638.3 548.5L1761.0 404.3"/><path d="M1638.4 548.8L1761.1 405.3"/><path d="M1645.8 554.4L1769.1 411.2"/><path d="M1643.0 554.9L1768.4 410.4"/><path d="M1652.1 561.7L1778.8 418.2"/><path d="M1652.7 562.5L1777.1 420.1"/><path d="M1660.2 569.4L1787.0 425.8"/><path d="M1662.9 569.5L1785.3 426.3"/><path d="M1668.7 576.5L1794.6 432.7"/><path d="M1669.1 577.1L1794.3 432.7"/><path d="M1676.6 584.2L1801.2 440.3"/><path d="M1676.8 583.2L1803.0 440.9"/><path d="M1684.5 590.1L1809.1 447.0"/><path d="M1685.3 588.8L1810.3 447.4"/><path d="M1694.1 595.9L1816.6 452.0"/><path d="M1693.0 596.7L1817.5 452.7"/><path d="M1700.1 605.3L1826.2 460.8"/><path d="M1702.2 603.3L1824.9 460.1"/><path d="M1707.8 610.5L1833.0 466.0"/><path d="M1708.6 608.9L1833.9 465.7"/><path d="M1715.6 617.9L1842.2 474.8"/><path d="M1715.3 617.1L1840.8 473.1"/><path d="M1724.2 625.1L1851.0 483.2"/><path d="M1724.5 625.0L1851.0 480.4"/><path d="M1733.7 630.2L1856.9 487.2"/><path d="M1732.4 630.0L1855.8 489.3"/><path d="M1742.0 638.0L1865.2 495.6"/><path d="M1740.5 638.7L1867.2 495.0"/><path d="M1750.2 645.6L1872.0 501.6"/><path d="M1749.2 643.9L1872.9 502.4"/></g>
<path d="M1744.5 460L1749.8 454.1" stroke="#20446b" stroke-width="1.3" fill="none" stroke-linecap="round"/>
<path d="M1744.5 477.3L1750.6 470.2" stroke="#20446b" stroke-width="1.3" fill="none" stroke-linecap="round"/>
<path d="M1722.5 519.8L1726 515" stroke="#20446b" stroke-width="1.3" fill="none" stroke-linecap="round"/>
<path d="M1641.7 443.5C1641.9 439.2 1642.3 438.3 1643.2 435.9C1644.1 433.4 1645.4 430.6 1647.1 428.8C1648.8 427.0 1651.1 425.9 1653.4 424.9C1655.6 423.9 1656.0 423.1 1660.8 422.8C1665.6 422.5 1675.1 423.2 1682.3 423.3C1689.5 423.4 1696.4 423.2 1703.9 423.2C1711.4 423.3 1722.1 423.5 1727.2 423.7C1732.3 423.8 1732.3 423.5 1734.4 424.3C1736.5 425.1 1738.2 426.5 1739.9 428.3C1741.6 430.1 1743.7 432.9 1744.7 435.1C1745.6 437.4 1745.3 437.7 1745.4 442.0C1745.5 446.3 1745.2 454.5 1745.2 461.0C1745.3 467.5 1745.4 474.5 1745.6 480.8C1745.8 487.1 1746.4 494.6 1746.2 498.8C1745.9 503.0 1745.0 503.7 1744.1 506.0C1743.2 508.3 1742.5 510.8 1740.9 512.7C1739.2 514.7 1736.5 516.8 1734.2 517.6C1731.9 518.5 1732.0 517.7 1727.0 517.8C1722.1 518.0 1711.9 518.2 1704.6 518.5C1697.2 518.7 1690.0 519.3 1682.7 519.4C1675.5 519.5 1665.9 519.7 1661.1 519.2C1656.3 518.7 1656.2 517.5 1654.0 516.4C1651.7 515.3 1649.3 514.2 1647.4 512.5C1645.5 510.8 1643.4 508.4 1642.5 506.0C1641.6 503.7 1642.2 502.6 1642.1 498.3C1641.9 494.1 1641.6 486.6 1641.5 480.5C1641.5 474.3 1641.9 467.5 1642.0 461.3C1642.0 455.2 1641.5 447.7 1641.7 443.5Z" fill="none" stroke="#d3d3d3" stroke-width="2.8" stroke-linejoin="round"/>
<path d="M1641.0 445.8C1641.4 441.6 1641.8 440.4 1643.0 437.7C1644.2 435.0 1646.0 431.8 1648.3 429.5C1650.6 427.2 1654.1 425.3 1656.8 424.1C1659.5 423.0 1660.3 422.9 1664.8 422.5C1669.2 422.2 1677.2 421.9 1683.3 422.0C1689.5 422.1 1695.2 422.8 1701.7 423.1C1708.1 423.3 1716.9 423.2 1721.9 423.4C1726.9 423.6 1728.8 423.1 1731.6 424.2C1734.4 425.4 1736.8 428.2 1738.7 430.5C1740.6 432.7 1741.8 434.9 1743.0 437.7C1744.1 440.4 1745.1 443.1 1745.6 447.1C1746.1 451.2 1746.0 456.8 1746.0 461.9C1745.9 467.0 1745.7 472.2 1745.5 477.7C1745.4 483.2 1745.6 490.4 1745.2 494.8C1744.7 499.1 1743.9 501.0 1742.7 503.8C1741.5 506.6 1740.2 509.5 1738.1 511.6C1736.0 513.6 1733.1 514.9 1730.4 516.1C1727.6 517.2 1726.3 518.0 1721.6 518.4C1717.0 518.9 1708.8 518.9 1702.5 518.8C1696.2 518.7 1690.2 517.8 1683.9 517.7C1677.7 517.7 1669.6 518.5 1664.8 518.3C1660.1 518.2 1658.2 518.0 1655.5 516.8C1652.8 515.7 1650.8 514.0 1648.9 511.7C1646.9 509.4 1645.0 505.9 1643.8 503.1C1642.5 500.3 1641.9 498.8 1641.4 494.7C1640.9 490.7 1640.9 484.1 1640.8 478.8C1640.7 473.4 1640.8 468.3 1640.8 462.9C1640.9 457.4 1640.6 450.0 1641.0 445.8Z" fill="none" stroke="#d3d3d3" stroke-width="2.8" stroke-linejoin="round"/>
<g clip-path="url(#c3)" stroke="#20446b" stroke-width="1.45" fill="none" stroke-linecap="round"><path d="M1868.6 286.2L2011.1 411.1"/><path d="M1870.3 287.1L2011.8 412.1"/><path d="M1862.4 294.9L2007.3 418.8"/><path d="M1862.8 295.9L2006.7 419.6"/><path d="M1854.8 302.9L1997.8 428.8"/><path d="M1856.2 302.8L1999.7 426.4"/><path d="M1848.7 309.9L1991.7 436.5"/><path d="M1847.6 309.5L1991.3 435.7"/><path d="M1840.1 318.7L1984.7 442.5"/><path d="M1841.6 319.1L1985.2 443.6"/><path d="M1835.3 328.5L1977.2 451.2"/><path d="M1835.4 326.5L1978.3 452.3"/><path d="M1828.6 336.2L1969.5 460.2"/><path d="M1827.1 335.4L1970.2 459.2"/><path d="M1820.2 342.5L1962.8 467.4"/><path d="M1819.2 343.3L1962.4 466.6"/><path d="M1812.8 351.0L1956.2 474.9"/><path d="M1814.8 350.3L1956.4 476.1"/><path d="M1804.8 358.7L1949.5 485.0"/><path d="M1805.8 360.1L1948.7 484.8"/><path d="M1799.3 367.5L1944.2 492.4"/><path d="M1800.0 366.5L1943.8 491.7"/><path d="M1793.1 374.3L1935.3 500.6"/><path d="M1791.4 374.5L1934.2 500.3"/><path d="M1786.6 382.5L1929.1 508.0"/><path d="M1785.5 383.3L1929.8 509.7"/><path d="M1779.9 389.2L1921.3 514.4"/><path d="M1779.9 391.8L1921.5 514.5"/><path d="M1772.4 398.3L1915.3 522.4"/><path d="M1773.2 399.3L1915.1 522.6"/><path d="M1765.5 408.6L1907.7 532.4"/><path d="M1764.8 408.0L1907.0 530.8"/><path d="M1759.6 413.7L1901.7 537.9"/><path d="M1757.8 413.0L1901.9 538.0"/><path d="M1750.1 422.3L1894.1 547.4"/><path d="M1750.0 421.8L1892.8 549.0"/><path d="M1742.9 429.7L1887.5 556.8"/><path d="M1743.3 431.8L1887.5 555.1"/><path d="M1736.3 438.1L1880.2 564.5"/><path d="M1737.0 438.7L1881.3 565.1"/><path d="M1729.3 448.6L1873.5 571.3"/><path d="M1728.0 446.6L1871.7 571.0"/><path d="M1724.0 454.2L1866.7 578.0"/><path d="M1722.4 456.1L1865.2 579.5"/><path d="M1716.6 464.1L1858.9 588.9"/><path d="M1716.7 464.2L1860.6 586.8"/><path d="M1708.3 472.2L1851.3 597.5"/><path d="M1707.2 471.8L1851.2 595.9"/><path d="M1702.8 479.7L1845.4 603.8"/><path d="M1701.9 478.1L1847.0 602.9"/><path d="M1695.2 487.1L1838.3 611.8"/><path d="M1695.9 486.9L1838.2 609.9"/><path d="M1688.3 494.3L1830.7 619.1"/><path d="M1688.4 493.9L1832.2 620.5"/><path d="M1682.8 502.0L1825.9 626.0"/><path d="M1683.2 502.3L1826.5 626.4"/><path d="M1675.1 509.9L1817.2 636.0"/><path d="M1675.9 510.3L1817.0 635.1"/><path d="M1665.8 520.0L1809.9 644.7"/><path d="M1666.0 520.0L1811.4 645.3"/><path d="M1660.4 527.3L1802.6 652.8"/><path d="M1660.9 527.0L1804.2 651.5"/><path d="M1653.8 435.1L1778.2 290.1"/><path d="M1653.9 434.7L1778.4 291.8"/><path d="M1661.4 442.6L1788.6 300.0"/><path d="M1661.9 443.4L1788.6 299.0"/><path d="M1669.2 451.0L1795.0 305.3"/><path d="M1671.4 450.0L1796.3 307.1"/><path d="M1678.3 457.9L1801.6 314.1"/><path d="M1678.9 455.6L1803.8 312.9"/><path d="M1687.0 462.1L1809.9 320.1"/><path d="M1684.6 463.2L1811.4 319.6"/><path d="M1694.4 470.7L1819.0 326.4"/><path d="M1694.7 470.5L1817.1 325.9"/><path d="M1699.9 476.0L1827.1 334.0"/><path d="M1700.2 475.5L1825.6 334.1"/><path d="M1711.2 482.7L1836.1 339.7"/><path d="M1710.4 485.1L1835.3 339.7"/><path d="M1717.9 489.6L1842.3 347.1"/><path d="M1718.5 490.4L1843.0 348.2"/><path d="M1724.3 498.0L1850.0 352.9"/><path d="M1724.3 498.7L1850.4 353.6"/><path d="M1734.9 504.9L1858.8 360.6"/><path d="M1732.9 504.1L1857.0 361.4"/><path d="M1742.7 511.3L1866.3 368.2"/><path d="M1743.1 511.1L1867.0 367.4"/><path d="M1749.3 519.8L1874.0 376.4"/><path d="M1750.5 518.6L1875.9 375.0"/><path d="M1758.5 525.7L1881.5 382.2"/><path d="M1757.5 525.7L1884.2 381.9"/><path d="M1766.6 532.0L1890.5 388.3"/><path d="M1767.3 532.0L1890.5 388.9"/><path d="M1775.3 540.1L1899.1 395.3"/><path d="M1775.5 538.6L1898.5 396.1"/><path d="M1782.7 546.2L1908.0 404.7"/><path d="M1780.7 547.1L1906.7 402.9"/><path d="M1789.3 553.9L1914.8 411.4"/><path d="M1791.2 554.8L1914.1 411.0"/><path d="M1798.7 562.0L1921.4 417.0"/><path d="M1797.8 561.0L1921.9 418.6"/><path d="M1805.1 565.9L1929.8 424.3"/><path d="M1804.2 566.0L1930.6 423.9"/><path d="M1813.4 575.5L1939.5 432.0"/><path d="M1813.0 574.5L1937.4 432.2"/><path d="M1823.6 580.3L1946.7 438.5"/><path d="M1822.6 580.6L1948.0 437.8"/><path d="M1828.7 588.4L1953.4 443.6"/><path d="M1829.9 587.6L1955.3 444.0"/><path d="M1836.4 594.2L1962.2 451.8"/><path d="M1837.6 596.1L1961.2 452.7"/><path d="M1846.8 601.8L1969.8 458.6"/><path d="M1846.5 603.1L1969.8 456.8"/><path d="M1854.3 609.3L1978.7 464.2"/><path d="M1853.5 607.2L1976.9 464.6"/><path d="M1862.9 617.6L1985.8 472.9"/><path d="M1861.2 615.8L1986.0 474.4"/><path d="M1869.6 623.2L1995.4 480.7"/><path d="M1869.8 622.7L1995.5 479.0"/><path d="M1878.3 628.9L2001.8 486.1"/><path d="M1877.5 629.2L2002.0 486.1"/><path d="M1886.2 635.0L2010.0 493.1"/><path d="M1884.9 635.5L2008.7 492.5"/><path d="M1893.6 642.8L2019.0 500.2"/><path d="M1892.1 643.3L2019.6 498.7"/></g>
<path d="M1888 462L1894 455" stroke="#20446b" stroke-width="1.3" fill="none" stroke-linecap="round"/>
<path d="M1888 476L1895 467" stroke="#20446b" stroke-width="1.3" fill="none" stroke-linecap="round"/>
<path d="M1785.1 440.9C1785.5 436.4 1786.1 436.2 1787.0 433.9C1788.0 431.7 1789.0 429.2 1790.7 427.4C1792.5 425.7 1795.2 424.8 1797.4 423.7C1799.6 422.6 1799.3 421.4 1804.0 421.0C1808.8 420.6 1818.4 421.2 1825.7 421.3C1833.0 421.4 1840.6 421.6 1848.0 421.6C1855.4 421.6 1865.3 421.2 1870.1 421.6C1874.8 421.9 1874.4 422.4 1876.5 423.5C1878.6 424.7 1880.6 426.7 1882.5 428.3C1884.4 430.0 1887.0 431.2 1888.0 433.5C1889.1 435.7 1888.4 437.4 1888.6 441.8C1888.8 446.2 1889.5 453.9 1889.5 460.1C1889.4 466.3 1888.4 472.6 1888.1 478.9C1887.9 485.2 1888.2 493.3 1888.1 497.8C1888.0 502.3 1888.3 503.7 1887.5 505.8C1886.8 507.9 1885.1 508.8 1883.5 510.5C1881.8 512.2 1880.0 515.1 1877.7 516.1C1875.4 517.0 1874.4 516.1 1869.6 516.2C1864.7 516.4 1855.6 516.7 1848.5 516.9C1841.5 517.2 1834.3 518.1 1827.1 518.0C1820.0 517.9 1810.5 516.7 1805.6 516.3C1800.7 515.9 1800.2 516.4 1797.9 515.5C1795.5 514.6 1793.4 512.9 1791.5 511.2C1789.7 509.4 1787.9 507.3 1786.7 504.9C1785.6 502.6 1784.8 501.7 1784.7 497.3C1784.5 492.8 1785.8 484.3 1785.8 478.2C1785.8 472.2 1784.8 467.2 1784.7 461.0C1784.5 454.8 1784.7 445.4 1785.1 440.9Z" fill="none" stroke="#d3d3d3" stroke-width="2.8" stroke-linejoin="round"/>
<path d="M1785.1 445.4C1785.4 441.4 1786.2 439.3 1787.4 436.3C1788.5 433.4 1789.7 430.0 1791.8 427.8C1793.9 425.7 1797.3 424.5 1800.0 423.5C1802.8 422.5 1803.7 422.3 1808.3 421.7C1812.9 421.2 1821.2 420.4 1827.5 420.2C1833.7 420.1 1839.6 420.6 1845.9 420.9C1852.3 421.1 1860.8 421.5 1865.5 421.8C1870.2 422.2 1871.4 422.1 1874.1 423.2C1876.8 424.3 1879.6 426.3 1881.6 428.5C1883.6 430.6 1885.1 433.3 1886.1 436.0C1887.2 438.7 1887.7 440.7 1888.0 444.7C1888.4 448.7 1888.1 454.8 1888.1 460.0C1888.1 465.2 1887.9 470.3 1888.0 475.7C1888.2 481.1 1889.0 487.9 1888.8 492.2C1888.6 496.5 1887.7 498.6 1886.7 501.3C1885.6 504.0 1884.4 506.4 1882.4 508.5C1880.3 510.6 1877.0 512.7 1874.3 513.8C1871.6 515.0 1870.6 515.1 1866.0 515.4C1861.5 515.6 1853.4 515.1 1847.0 515.2C1840.6 515.3 1833.9 516.1 1827.6 516.1C1821.3 516.1 1813.8 515.5 1809.1 515.2C1804.4 515.0 1802.0 515.5 1799.2 514.5C1796.4 513.5 1794.1 511.4 1792.1 509.2C1790.1 507.0 1788.2 504.1 1787.1 501.4C1786.0 498.7 1785.7 497.2 1785.6 493.0C1785.4 488.9 1786.2 481.8 1786.2 476.4C1786.2 470.9 1785.6 465.4 1785.4 460.3C1785.3 455.1 1784.8 449.4 1785.1 445.4Z" fill="none" stroke="#d3d3d3" stroke-width="2.8" stroke-linejoin="round"/>
<g style="will-change:transform">
<text x="192" y="426.7" font-size="43" textLength="116.8" lengthAdjust="spacingAndGlyphs">client</text>
<text transform="translate(173.4 484.5) scale(1.12 1)" x="0" y="0" font-size="45" textLength="138.2" lengthAdjust="spacing">(fast!)</text>
<text x="508" y="400.2" font-size="43" textLength="143.0" lengthAdjust="spacingAndGlyphs">upload</text>
<text x="518.8" y="511" font-size="43" textLength="104.7" lengthAdjust="spacingAndGlyphs">done</text>
<text x="823.5" y="454" font-size="43" textLength="136.0" lengthAdjust="spacingAndGlyphs">server</text>
<text x="1138.3" y="450.5" font-size="40" textLength="81.7" lengthAdjust="spacingAndGlyphs">msg</text>
<text y="362.6" font-size="41.5"><tspan x="1463" textLength="183" lengthAdjust="spacingAndGlyphs">message</tspan> <tspan x="1661.5" textLength="126.5" lengthAdjust="spacingAndGlyphs">queue</tspan></text>
<text x="2050.2" y="370.7" font-size="40" textLength="81.8" lengthAdjust="spacingAndGlyphs">msg</text>
<text x="2050.2" y="500.1" font-size="40" textLength="81.8" lengthAdjust="spacingAndGlyphs">msg</text>
<text x="2277.3" y="296" font-size="43" textLength="145.2" lengthAdjust="spacingAndGlyphs">worker</text>
<text x="2277.3" y="554.3" font-size="43" textLength="145.2" lengthAdjust="spacingAndGlyphs">worker</text>
</g>
</svg>
</body></html>
